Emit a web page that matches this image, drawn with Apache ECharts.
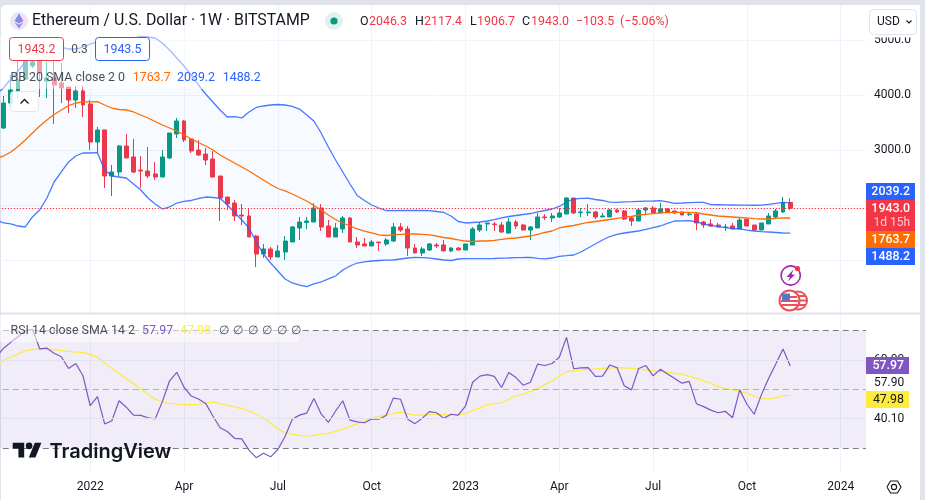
<!DOCTYPE html>
<html>
<head>
<meta charset="utf-8">
<title>Ethereum / U.S. Dollar</title>
<style>
html,body{margin:0;padding:0;width:925px;height:500px;overflow:hidden;background:#e0e3eb}
#card{position:absolute;left:1px;top:5px;width:919px;height:495px;background:#fff;border-radius:5px 5px 0 0}
#chart{position:absolute;left:0;top:0;width:925px;height:500px}
</style>
<script src="https://cdn.jsdelivr.net/npm/echarts@6/dist/echarts.min.js"></script>
</head>
<body>
<div id="card"></div>
<div id="chart"></div>
<script>
const startWeek = '2021-10-04';
const tickLabels = {'2022-01-03':'2022','2022-04-04':'Apr','2022-07-04':'Jul','2022-10-03':'Oct','2023-01-02':'2023','2023-04-03':'Apr','2023-07-03':'Jul','2023-10-02':'Oct','2024-01-01':'2024'};
const opens = [null,3400,3854,4073,4291,4527,4618,4255,4309,4218,4145,3909,4073,3836,3145,3364,2527,2600,3073,2873,2636,2618,2564,2509,2855,3291,3527,3200,3000,2927,2836,2527,2145,2036,1818,1800,1436,1109,1200,1055,1145,1327,1582,1682,1691,1945,1618,1418,1564,1764,1327,1291,1255,1327,1291,1345,1600,1564,1218,1127,1182,1273,1273,1164,1218,1182,1273,1545,1655,1655,1636,1491,1691,1636,1545,1582,1782,1764,1782,1836,2127,1860,1860,1873,1782,1782,1909,1891,1764,1709,1909,1945,1855,1927,1891,1873,1827,1836,1691,1655,1636,1591,1618,1564,1745,1636,1545,1655,1782,1873,2046.3];
const closes = [null,3854,4091,4273,4636,4600,4400,4309,4182,4127,3909,4073,3818,3145,3364,2527,2600,3073,2855,2600,2618,2527,2509,2873,3309,3527,3182,2982,2909,2818,2509,2127,2018,1800,1800,1418,1109,1200,1055,1164,1345,1600,1691,1709,1945,1600,1418,1582,1764,1327,1273,1255,1327,1315,1364,1600,1545,1218,1127,1200,1291,1255,1164,1218,1182,1291,1564,1636,1673,1642,1509,1691,1618,1545,1600,1782,1770,1800,1855,2127,1855,1873,1873,1782,1800,1909,1873,1745,1709,1909,1945,1855,1927,1873,1855,1818,1836,1673,1636,1618,1600,1600,1564,1727,1618,1545,1673,1800,1891,2046,1943.0];
const lows = [null,3382,3836,3927,4273,4491,3964,3945,3473,3854,3673,3764,3600,3000,2945,2309,2164,2527,2855,2582,2309,2491,2455,2509,2836,3218,3145,2945,2891,2727,2491,1709,1909,1709,1636,1418,873,1036,1000,1055,1000,1327,1364,1564,1691,1527,1418,1418,1491,1327,1218,1255,1255,1164,1255,1327,1509,1073,1127,1073,1164,1218,1164,1145,1182,1182,1273,1509,1527,1527,1491,1473,1564,1545,1364,1582,1727,1691,1764,1836,1836,1782,1800,1745,1782,1782,1855,1727,1618,1709,1818,1855,1855,1855,1836,1818,1800,1545,1582,1600,1600,1527,1564,1564,1618,1527,1545,1655,1764,1855,1906.7];
const highs = [null,3982,4364,4636,4727,4636,4818,4600,4727,4582,4145,4164,4164,3909,3418,3364,2727,3091,3291,3200,2891,3055,2782,3000,3309,3582,3545,3218,3182,3036,2982,2527,2145,2091,2018,1927,1455,1291,1236,1273,1436,1618,1782,1782,2036,2018,1727,1673,1800,1782,1418,1400,1364,1327,1400,1673,1673,1618,1291,1236,1309,1309,1364,1236,1236,1291,1600,1691,1673,1691,1691,1764,1727,1655,1618,1855,1836,1855,1945,2145,2127,1945,2018,1891,1855,1927,1927,1909,1782,1945,1964,1982,2036,1945,1891,1873,1873,1855,1709,1745,1673,1655,1673,1764,1745,1636,1673,1855,1927,2145,2117.4];
const bbBasis = [2845,2891,2964,3064,3182,3309,3436,3545,3645,3727,3809,3854,3873,3873,3878,3818,3763,3736,3727,3691,3636,3582,3518,3454,3400,3345,3273,3200,3136,3073,3000,2909,2836,2764,2691,2618,2536,2455,2373,2300,2255,2200,2136,2073,1991,1909,1818,1736,1673,1618,1564,1527,1491,1455,1445,1455,1464,1473,1473,1464,1455,1436,1409,1391,1364,1345,1336,1345,1345,1355,1373,1391,1400,1418,1436,1464,1500,1527,1582,1609,1627,1655,1682,1700,1718,1736,1755,1773,1791,1818,1831,1844,1855,1860,1864,1864,1864,1860,1836,1818,1800,1791,1782,1773,1764,1751,1745,1745,1755,1764,1763.7];
const bbUpper = [4018,4127,4291,4436,4600,4727,4818,4872,4891,4872,4836,4836,4872,4927,4963,4982,5000,5009,5018,5036,5063,5054,5036,4945,4818,4672,4527,4363,4182,4018,3873,3727,3600,3605,3582,3691,3773,3800,3818,3827,3818,3791,3745,3636,3527,3309,3054,2818,2600,2382,2173,2082,2000,1945,1900,1896,1900,1900,1900,1900,1896,1882,1864,1800,1700,1673,1682,1691,1709,1736,1764,1791,1809,1827,1845,1873,1900,1927,1973,2055,2109,2122,2124,2100,2082,2051,2049,2055,2060,2067,2071,2073,2078,2058,2031,2036,2042,2047,2049,2005,2004,2002,2000,1998,1996,1995,1996,2013,2031,2049,2039.2];
const bbLower = [1727,1673,1655,1618,1600,1782,1909,2127,2418,2600,2782,2891,2945,2945,2951,2636,2527,2509,2491,2382,2273,2127,2018,1927,1964,2036,2064,2082,2118,2145,2136,2122,2000,1864,1727,1582,1327,1109,945,800,655,582,545,515,564,600,655,709,818,891,945,964,982,991,996,1000,1018,1036,1049,1042,1033,1018,1000,991,1018,1024,1024,1024,1024,1027,1033,1036,1042,1045,1049,1031,1022,1036,1067,1078,1091,1145,1218,1291,1364,1427,1464,1491,1509,1527,1555,1587,1618,1664,1709,1713,1715,1691,1655,1627,1605,1587,1573,1564,1545,1527,1515,1509,1500,1491,1488.2];
const rsi = [61.1,64,66,67.9,70,70.4,63.8,64,62.3,61.1,57.1,58.8,54.6,44.4,47.5,38.2,39.3,46.1,43.9,41.2,41.1,40.3,39.9,45.8,52.9,55.8,50.7,47.7,46.7,45.2,40.9,36.9,35.6,33.3,33.1,29.3,26.7,28.2,27,29.5,33.9,39.8,41.2,41.9,46.9,41.6,38.7,42.6,46.1,39.5,38.9,38.6,39.9,39.8,41.1,47,46.6,39.8,38.3,40.1,42.4,42,40.1,41.5,41.2,44.3,52.4,54.5,55,54.4,50.6,55.7,54,51.4,52.4,58.6,58.1,58.8,60.9,67.7,57,57.3,57.4,54.4,54.5,58.3,57.4,51.2,49.8,57.1,58.1,54.6,56.8,55.2,53.7,52.1,52.7,45.1,44.1,42.9,42,42.5,40.3,49.8,44.9,41.5,48.1,53.7,58.6,63.7,57.97];
const rsiSma = [58.3,59.8,61,62.1,63.1,63.6,63.7,63.7,63.5,63.2,62.9,62.7,62.6,61.8,60.9,59.1,57.1,55.3,53.7,52,50.1,48.4,46.6,45.7,45.2,45,44.8,44.8,44.9,45.3,45.7,45.1,44.5,44,43.4,42.6,41.5,40.2,38.4,36.5,35.2,34.7,34.3,34,34.3,34.7,35,35.7,36.5,37.3,38.2,39.2,40.1,40.7,41.2,41.8,42.2,41.7,41.2,41.2,41.4,41.5,41.4,41.2,41.2,41.7,42.8,43.6,44.7,45.1,45.4,46.6,47.7,48.4,49.3,50.3,51.6,52.9,54.5,56,56.3,56.6,56.7,56.9,57.1,57.3,57.4,57.3,57.1,56.9,56.6,56.3,56,55.8,55.4,55.1,54.5,53.7,52.9,52,50.9,50.3,49.8,49.4,48.6,47.7,46.8,46.7,47.1,47.8,47.98];
const ohlcText = {open:'2046.3',high:'2117.4',low:'1906.7',close:'1943.0',change:'\u2212103.5',percent:'(\u22125.06%)'};
const sellPrice = '1943.2', spread = '0.3', buyPrice = '1943.5';
const rsiScaleLabels = ['60.00','57.90','40.10'];

const categoryCount = 121;
const categories = [];
for (let i = 0, d = new Date(startWeek + 'T00:00:00Z'); i < categoryCount; i++) {
  categories.push(d.toISOString().slice(0, 10));
  d = new Date(d.getTime() + 7 * 86400000);
}
const candleData = opens.map((o, i) => [o, closes[i], lows[i], highs[i]]);
const bandWidth = bbUpper.map((u, i) => u - bbLower[i]);
const lastVal = a => a[a.length - 1];
const FONT = 'Roboto, "Noto Sans", sans-serif';
const UP = '#089981', DOWN = '#f23645', BLUE = '#2962ff', ORANGE = '#ff6d00', PURPLE = '#7e57c2', YELLOW = '#ffeb3b', INK = '#131722', GRID = '#f0f3fa';

function T(text, x, y, fill, size, opt) {
  opt = opt || {};
  return {type:'text', z:opt.z||110, silent:true, style:{text, x, y, fill, font:(opt.weight||'400')+' '+(size||12)+'px '+(opt.family||FONT), textAlign:opt.align||'left', textVerticalAlign:'middle', verticalAlign:'middle', opacity:opt.opacity==null?1:opt.opacity}};
}
function R(x, y, w, h, fill, opt) {
  opt = opt || {};
  return {type:'rect', z:opt.z||100, silent:true, shape:{x, y, width:w, height:h, r:opt.r||0}, style:{fill, stroke:opt.stroke||null, lineWidth:opt.lw||1, opacity:opt.opacity==null?1:opt.opacity}};
}
function C(cx, cy, r, fill, opt) {
  opt = opt || {};
  return {type:'circle', z:opt.z||105, silent:true, shape:{cx, cy, r}, style:{fill, stroke:opt.stroke||null, lineWidth:opt.lw||1}};
}
function P(points, fill, opt) {
  opt = opt || {};
  return {type:opt.line?'polyline':'polygon', z:opt.z||105, silent:true, shape:{points}, style:{fill:opt.line?null:fill, stroke:opt.stroke||null, lineWidth:opt.lw||1}};
}
function HL(x1, x2, y, stroke, lw, z) {
  return {type:'line', z:z||105, silent:true, shape:{x1, y1:y, x2, y2:y}, style:{stroke, lineWidth:lw||1}};
}

const graphics = [
  HL(0, 920, 313.5, '#e0e3eb', 2, 50),
  // legend veils
  R(0, 35, 266, 54, '#ffffff', {opacity:.5, z:90}),
  R(0, 315, 299, 27, '#ffffff', {opacity:.55, z:90}),
  // title
  C(19, 21, 9, '#e8e8f5'),
  P([[19,13.5],[14.5,21],[19,23.5]], '#7b8fe8'),
  P([[19,13.5],[23.5,21],[19,23.5]], '#a47be8'),
  P([[14.5,22.2],[19,28.5],[19,24.8]], '#8f8be8'),
  P([[23.5,22.2],[19,28.5],[19,24.8]], '#c07be0'),
  T('Ethereum / U.S. Dollar \u00b7 1W \u00b7 BITSTAMP', 32, 21.5, INK, 15.85),
  C(334, 21, 9, '#def2ee'),
  C(334, 21, 3.6, UP),
  T('O', 360, 21.5, INK, 12.4), T(ohlcText.open, 369, 21.5, DOWN, 12.4),
  T('H', 415, 21.5, INK, 12.4), T(ohlcText.high, 424, 21.5, DOWN, 12.4),
  T('L', 470, 21.5, INK, 12.4), T(ohlcText.low, 477, 21.5, DOWN, 12.4),
  T('C', 522, 21.5, INK, 12.4), T(ohlcText.close, 531, 21.5, DOWN, 12.4),
  T(ohlcText.change, 576, 21.5, DOWN, 12.4), T(ohlcText.percent, 620, 21.5, DOWN, 12.4),
  // buy / sell
  R(9.5, 37.5, 54, 23, '#ffffff', {stroke:DOWN, r:3, z:102}),
  T(sellPrice, 36.5, 49.5, DOWN, 12.4, {align:'center'}),
  T(spread, 79.5, 49.5, '#4a4e5a', 12, {align:'center'}),
  R(95.5, 37.5, 54, 23, '#ffffff', {stroke:BLUE, r:3, z:102}),
  T(buyPrice, 122.5, 49.5, BLUE, 12.4, {align:'center'}),
  // BB legend
  T('BB 20 SMA close 2 0', 10.5, 77.5, '#4a4e5a', 12.4),
  T(lastVal(bbBasis).toFixed(1), 132.7, 77.5, ORANGE, 12.4),
  T(lastVal(bbUpper).toFixed(1), 177, 77.5, BLUE, 12.4),
  T(lastVal(bbLower).toFixed(1), 222.7, 77.5, BLUE, 12.4),
  // collapse button
  R(10.5, 91.5, 28, 20, '#ffffff', {stroke:'#e0e3eb', r:3, opacity:.85, z:102}),
  P([[20.5,103.5],[24.5,99.5],[28.5,103.5]], null, {line:true, stroke:INK, lw:1.3}),
  // USD button and the white strip that cuts the top price label
  R(866, 5, 54, 32.5, '#ffffff', {z:101}),
  R(869.5, 9.5, 47, 25, '#ffffff', {stroke:'#e0e3eb', r:4, z:102}),
  T('USD', 877, 22, INK, 12),
  P([[906.5,20.5],[909,23],[911.5,20.5]], null, {line:true, stroke:INK, lw:1.1}),
  // price tags
  R(866, 183, 49, 17, BLUE),
  T(lastVal(bbUpper).toFixed(1), 910, 191.8, '#ffffff', 12.4, {align:'right', weight:'500'}),
  R(866, 200, 49, 31, DOWN),
  T(lastVal(closes).toFixed(1), 910, 209, '#ffffff', 12.4, {align:'right', weight:'500'}),
  T('1d 15h', 910, 222.5, '#ffffff', 12, {align:'right', opacity:.72}),
  R(866, 231, 49, 17, ORANGE),
  T(lastVal(bbBasis).toFixed(1), 910, 239.8, '#ffffff', 12.4, {align:'right', weight:'500'}),
  R(866, 248, 49, 17, BLUE),
  T(lastVal(bbLower).toFixed(1), 910, 256.8, '#ffffff', 12.4, {align:'right', weight:'500'}),
  // RSI legend
  T('RSI 14 close SMA 14 2', 10.5, 330.5, '#4a4e5a', 12.4),
  T(lastVal(rsi).toFixed(2), 142, 330.5, PURPLE, 12.4),
  T(lastVal(rsiSma).toFixed(2), 180, 330.5, YELLOW, 12.4),
  ...[0,1,2,3,4,5].map(k => T('\u2205', 218.5 + k * 14.55, 330.5, '#4a4e5a', 12)),
  // RSI scale
  T(rsiScaleLabels[0], 874, 360, INK, 12),
  T(rsiScaleLabels[1], 874, 382.5, INK, 12),
  T(rsiScaleLabels[2], 874, 418.5, INK, 12),
  R(866, 357, 43, 17, PURPLE, {z:111}),
  T(lastVal(rsi).toFixed(2), 904, 365.8, '#ffffff', 12.4, {align:'right', weight:'500', z:112}),
  R(866, 391, 43, 17, YELLOW, {z:111}),
  T(lastVal(rsiSma).toFixed(2), 904, 399.8, INK, 12.4, {align:'right', z:112}),
  // TradingView logo
  P([[12.7,442.7],[24.2,442.7],[24.2,457.5],[18.4,457.5],[18.4,448.4],[12.7,448.4]], INK),
  C(29.1, 445.9, 3.3, INK),
  P([[34.8,442.7],[41.4,442.7],[35.4,457.5],[28.8,457.5]], INK),
  T('TradingView', 49.5, 451.5, INK, 20, {family:'Inter, Roboto, sans-serif', weight:'600'}),
  // event icons
  C(790.7, 275.5, 9.6, '#ffffff', {stroke:'#9c27b0', lw:1.6}),
  P([[793.5,269.5],[786.5,277],[790,277],[788,281.5],[795,274.5],[791.5,274.5]], '#9c27b0'),
  C(797.5, 268.5, 2.6, DOWN, {z:106}),
  C(798, 300.5, 9, '#ffffff', {stroke:'#ef4f58', lw:2}),
  HL(793, 805, 296, '#ef4f58', 2), HL(792, 806, 300.5, '#ef4f58', 2), HL(793, 805, 305, '#ef4f58', 2),
  C(789.5, 300.5, 10, '#ffffff', {stroke:'#ef4f58', lw:2, z:106}),
  HL(786, 797, 297, '#ef4f58', 2, 107), HL(781, 798.5, 301, '#ef4f58', 2, 107), HL(781.5, 797.5, 305, '#ef4f58', 2, 107),
  R(782, 293.5, 8, 7, '#4f78cf', {z:108}),
  // settings gear
  P([[887,487],[890.5,481],[897.5,481],[901,487],[897.5,493],[890.5,493],[887,487]], null, {line:true, stroke:INK, lw:1.1}),
  C(894, 487, 2.6, '#ffffff', {stroke:INK, lw:1.1})
];

const priceLabelFmt = v => v.toFixed(1);
const isTick = (i, v) => Object.prototype.hasOwnProperty.call(tickLabels, v);
const noLine = {symbol:'none', showSymbol:false, smooth:false, animation:false, silent:true};

const chart = echarts.init(document.getElementById('chart'), null, {renderer:'canvas'});
chart.setOption({
  animation:false,
  backgroundColor:'transparent',
  textStyle:{fontFamily:FONT},
  graphic:{elements:graphics},
  grid:[
    {left:-7.22, top:5, width:873.22, height:310, outerBoundsMode:'none'},
    {left:-7.22, top:314, width:873.22, height:158, outerBoundsMode:'none'}
  ],
  xAxis:[
    {type:'category', gridIndex:0, data:categories, boundaryGap:true, axisLine:{show:false}, axisTick:{show:false, alignWithLabel:true}, axisLabel:{show:false},
     splitLine:{show:true, interval:isTick, alignWithLabel:true, lineStyle:{color:GRID, width:1}}},
    {type:'category', gridIndex:1, data:categories, boundaryGap:true, axisLine:{show:false}, axisTick:{show:false, alignWithLabel:true},
     axisLabel:{show:true, interval:isTick, margin:9, color:INK, fontSize:12, fontFamily:FONT, hideOverlap:false,
       formatter:v => tickLabels[v] || ''},
     splitLine:{show:true, interval:isTick, alignWithLabel:true, lineStyle:{color:GRID, width:1}}}
  ],
  yAxis:[
    {type:'value', gridIndex:0, position:'right', min:0, max:5636, interval:1000, axisLine:{show:false}, axisTick:{show:false},
     axisLabel:{color:INK, fontSize:12, margin:8, formatter:priceLabelFmt, showMinLabel:false, showMaxLabel:false},
     splitLine:{show:true, showMinLine:false, showMaxLine:false, lineStyle:{color:GRID, width:1}}},
    {type:'value', gridIndex:1, position:'right', min:21.82, max:75.66, axisLine:{show:false}, axisTick:{show:false}, axisLabel:{show:false}, splitLine:{show:false}}
  ],
  series:[
    Object.assign({type:'line', xAxisIndex:0, yAxisIndex:0, data:bbLower, stack:'bb', lineStyle:{opacity:0, width:0}}, noLine),
    Object.assign({type:'line', xAxisIndex:0, yAxisIndex:0, data:bandWidth, stack:'bb', lineStyle:{opacity:0, width:0}, areaStyle:{color:'rgba(33,150,243,0.05)', origin:'auto'}}, noLine),
    {type:'candlestick', xAxisIndex:0, yAxisIndex:0, data:candleData, barWidth:4.4, animation:false, silent:true,
     itemStyle:{color:UP, color0:DOWN, borderColor:UP, borderColor0:DOWN, borderWidth:1},
     markLine:{silent:true, symbol:['none','none'], animation:false, label:{show:false}, lineStyle:{color:DOWN, type:[1.3,1.7], width:1.2}, data:[{yAxis:lastVal(closes)}]}},
    Object.assign({type:'line', xAxisIndex:0, yAxisIndex:0, data:bbBasis, lineStyle:{color:ORANGE, width:1.3}}, noLine),
    Object.assign({type:'line', xAxisIndex:0, yAxisIndex:0, data:bbUpper, lineStyle:{color:BLUE, width:1.3, opacity:.85}}, noLine),
    Object.assign({type:'line', xAxisIndex:0, yAxisIndex:0, data:bbLower, lineStyle:{color:BLUE, width:1.3, opacity:.85}}, noLine),
    Object.assign({type:'line', xAxisIndex:1, yAxisIndex:1, data:rsiSma, lineStyle:{color:YELLOW, width:1.2}}, noLine),
    Object.assign({type:'line', xAxisIndex:1, yAxisIndex:1, data:rsi, lineStyle:{color:PURPLE, width:1.2},
      markArea:{silent:true, animation:false, itemStyle:{color:'rgba(126,87,194,0.115)'}, data:[[{yAxis:30},{yAxis:70}]]},
      markLine:{silent:true, animation:false, symbol:['none','none'], label:{show:false}, data:[
        {yAxis:70, lineStyle:{color:'#787b86', type:[6,4], width:1}},
        {yAxis:60, lineStyle:{color:'#e4e1ee', type:'solid', width:1}},
        {yAxis:50, lineStyle:{color:'rgba(120,123,134,0.55)', type:[6,4], width:1}},
        {yAxis:40, lineStyle:{color:'#e4e1ee', type:'solid', width:1}},
        {yAxis:30, lineStyle:{color:'#787b86', type:[6,4], width:1}}
      ]}}, noLine)
  ]
});
</script>
</body>
</html>
